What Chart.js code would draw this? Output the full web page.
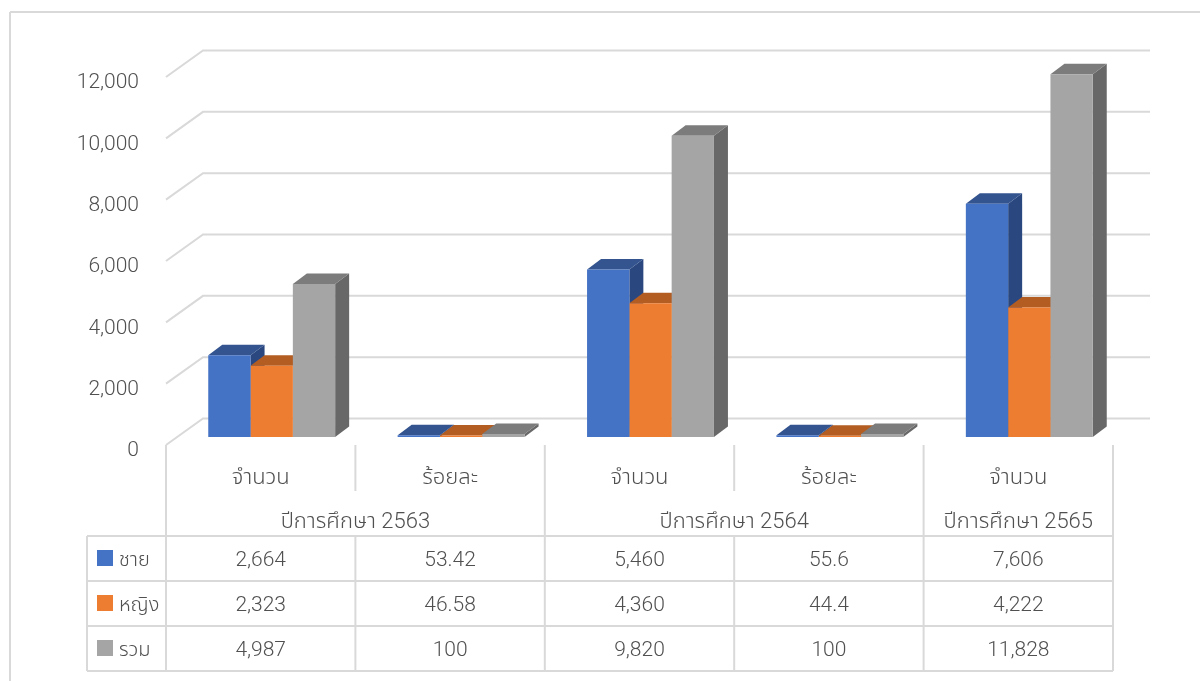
<!DOCTYPE html>
<html>
<head>
<meta charset="utf-8">
<script src="https://cdn.jsdelivr.net/npm/chart.js@4"></script>
<style>
    html, body { margin: 0; padding: 0; background: #fff; }
    #wrap { position: relative; width: 1200px; height: 681px; }
</style>
</head>
<body>
<div id="wrap"><canvas id="chart" width="1200" height="681"></canvas></div>
<script>
const categories = ['จำนวน', 'ร้อยละ', 'จำนวน', 'ร้อยละ', 'จำนวน'];
const yearGroups = ['ปีการศึกษา 2563', 'ปีการศึกษา 2564', 'ปีการศึกษา 2565'];
const yearSpans = [2, 2, 1];
const seriesNames = ['ชาย', 'หญิง', 'รวม'];
const male = [2664, 53.42, 5460, 55.6, 7606];
const female = [2323, 46.58, 4360, 44.4, 4222];
const total = [4987, 100, 9820, 100, 11828];

const FONT = 'Roboto, "Noto Sans Thai", "Noto Sans", sans-serif';
const TEXT = '#505050';
const LINE = '#d9d9d9';

// Bars sit part way into the floor, the walls and floor run further back
const DEPTH_X = 14, DEPTH_Y = 10.5;
const FRONT_Y = 8, BACK_X = 26, BACK_Y = 18.5, FRONT_X = 11;

const sideColors = ['#2a4780', '#a5561c', '#686868'];
const topColors = ['#34548f', '#b35d22', '#7c7c7c'];

function fmt(v) {
    return Number.isInteger(v) ? v.toLocaleString('en-US') : String(v);
}

function line(ctx, x1, y1, x2, y2) {
    ctx.beginPath();
    ctx.moveTo(x1, y1);
    ctx.lineTo(x2, y2);
    ctx.stroke();
}

function poly(ctx, pts, color) {
    ctx.fillStyle = color;
    ctx.beginPath();
    pts.forEach((p, i) => i ? ctx.lineTo(p[0], p[1]) : ctx.moveTo(p[0], p[1]));
    ctx.closePath();
    ctx.fill();
}

// Back wall grid plus the slanted bit on the left, then the bars' side and top faces
const wallPlugin = {
    id: 'wall',
    beforeDatasetsDraw(chart) {
        const { ctx, chartArea } = chart;
        const y = chart.scales.y;
        ctx.save();
        ctx.strokeStyle = LINE;
        ctx.lineWidth = 2;
        y.ticks.forEach(t => {
            const py = y.getPixelForValue(t.value);
            const fx = chartArea.left - FRONT_X;
            const bx = fx + 37;
            ctx.beginPath();
            ctx.moveTo(fx, py + FRONT_Y);
            ctx.lineTo(bx, py - BACK_Y);
            ctx.lineTo(chartArea.right + BACK_X, py - BACK_Y);
            ctx.stroke();
        });

        // the front faces get drawn by the library on top of all this
        chart.data.datasets.forEach((d, i) => {
            chart.getDatasetMeta(i).data.forEach(bar => {
                const l = bar.x - bar.width / 2, r = bar.x + bar.width / 2;
                poly(ctx, [[r, bar.y], [r + DEPTH_X, bar.y - DEPTH_Y], [r + DEPTH_X, bar.base - DEPTH_Y], [r, bar.base]], sideColors[i]);
                poly(ctx, [[l, bar.y], [l + DEPTH_X, bar.y - DEPTH_Y], [r + DEPTH_X, bar.y - DEPTH_Y], [r, bar.y]], topColors[i]);
            });
        });
        ctx.restore();
    }
};

// Data table under the plot, replaces the x axis
const tablePlugin = {
    id: 'dataTable',
    afterDraw(chart) {
        const { ctx } = chart;
        const x = chart.scales.x;
        const step = x.getPixelForValue(1) - x.getPixelForValue(0);
        const left = x.getPixelForValue(0) - step / 2 - FRONT_X;
        const edge = i => left + step * i;
        const axisTop = 445, catBottom = 491, tableTop = 536, rowH = 45, tableLeft = 87;
        const rows = [male, female, total];
        const colors = chart.data.datasets.map(d => d.backgroundColor);

        ctx.save();
        ctx.strokeStyle = LINE;
        ctx.lineWidth = 2;

        // outer frame of the pasted chart
        line(ctx, 10, 12, 1200, 12);
        line(ctx, 10, 12, 10, 681);

        // verticals, group borders run the full height
        const groupEdges = [0];
        yearSpans.forEach(s => groupEdges.push(groupEdges[groupEdges.length - 1] + s));
        for (let i = 0; i <= categories.length; i++) {
            const tall = groupEdges.includes(i);
            line(ctx, edge(i), axisTop, edge(i), tall ? tableTop : catBottom);
            line(ctx, edge(i), tableTop, edge(i), tableTop + rowH * rows.length);
        }
        line(ctx, tableLeft, tableTop, tableLeft, tableTop + rowH * rows.length);
        for (let r = 0; r <= rows.length; r++) {
            line(ctx, tableLeft, tableTop + rowH * r, edge(categories.length), tableTop + rowH * r);
        }

        ctx.fillStyle = TEXT;
        ctx.textBaseline = 'middle';
        ctx.textAlign = 'center';
        ctx.font = '300 22px ' + FONT;
        categories.forEach((c, i) => ctx.fillText(c, edge(i) + step / 2, 478));
        yearGroups.forEach((g, i) => {
            const a = groupEdges[i], b = groupEdges[i + 1];
            ctx.fillText(g, (edge(a) + edge(b)) / 2, 522);
        });
        ctx.font = '300 21px ' + FONT;
        rows.forEach((vals, r) => {
            const cy = tableTop + rowH * r + 25;
            vals.forEach((v, i) => ctx.fillText(fmt(v), edge(i) + step / 2, cy));
        });

        ctx.textAlign = 'left';
        ctx.font = '300 20px ' + FONT;
        seriesNames.forEach((n, r) => {
            const cy = tableTop + rowH * r;
            ctx.fillStyle = colors[r];
            ctx.fillRect(97, cy + 14, 16, 16);
            ctx.fillStyle = TEXT;
            ctx.fillText(n, 119, cy + 25);
        });
        ctx.restore();
    }
};

new Chart(document.getElementById('chart'), {
    type: 'bar',
    data: {
        labels: categories,
        datasets: [
            { label: seriesNames[0], data: male, backgroundColor: '#4472c4' },
            { label: seriesNames[1], data: female, backgroundColor: '#ed7d31' },
            { label: seriesNames[2], data: total, backgroundColor: '#a5a5a5' }
        ]
    },
    options: {
        responsive: false,
        animation: false,
        layout: { padding: { left: 0, right: 76, top: 69, bottom: 244 } },
        datasets: { bar: { categoryPercentage: 0.67, barPercentage: 1 } },
        plugins: { legend: { display: false }, tooltip: { enabled: false } },
        scales: {
            x: { display: false },
            y: {
                min: 0,
                max: 12000,
                afterFit: s => { s.width = 177; },
                border: { display: false },
                grid: { display: false },
                ticks: {
                    stepSize: 2000,
                    padding: 30,
                    labelOffset: 14,
                    color: TEXT,
                    font: { family: FONT, size: 21, weight: '300' },
                    callback: v => v.toLocaleString('en-US')
                }
            }
        }
    },
    plugins: [wallPlugin, tablePlugin]
});
</script>
</body>
</html>
